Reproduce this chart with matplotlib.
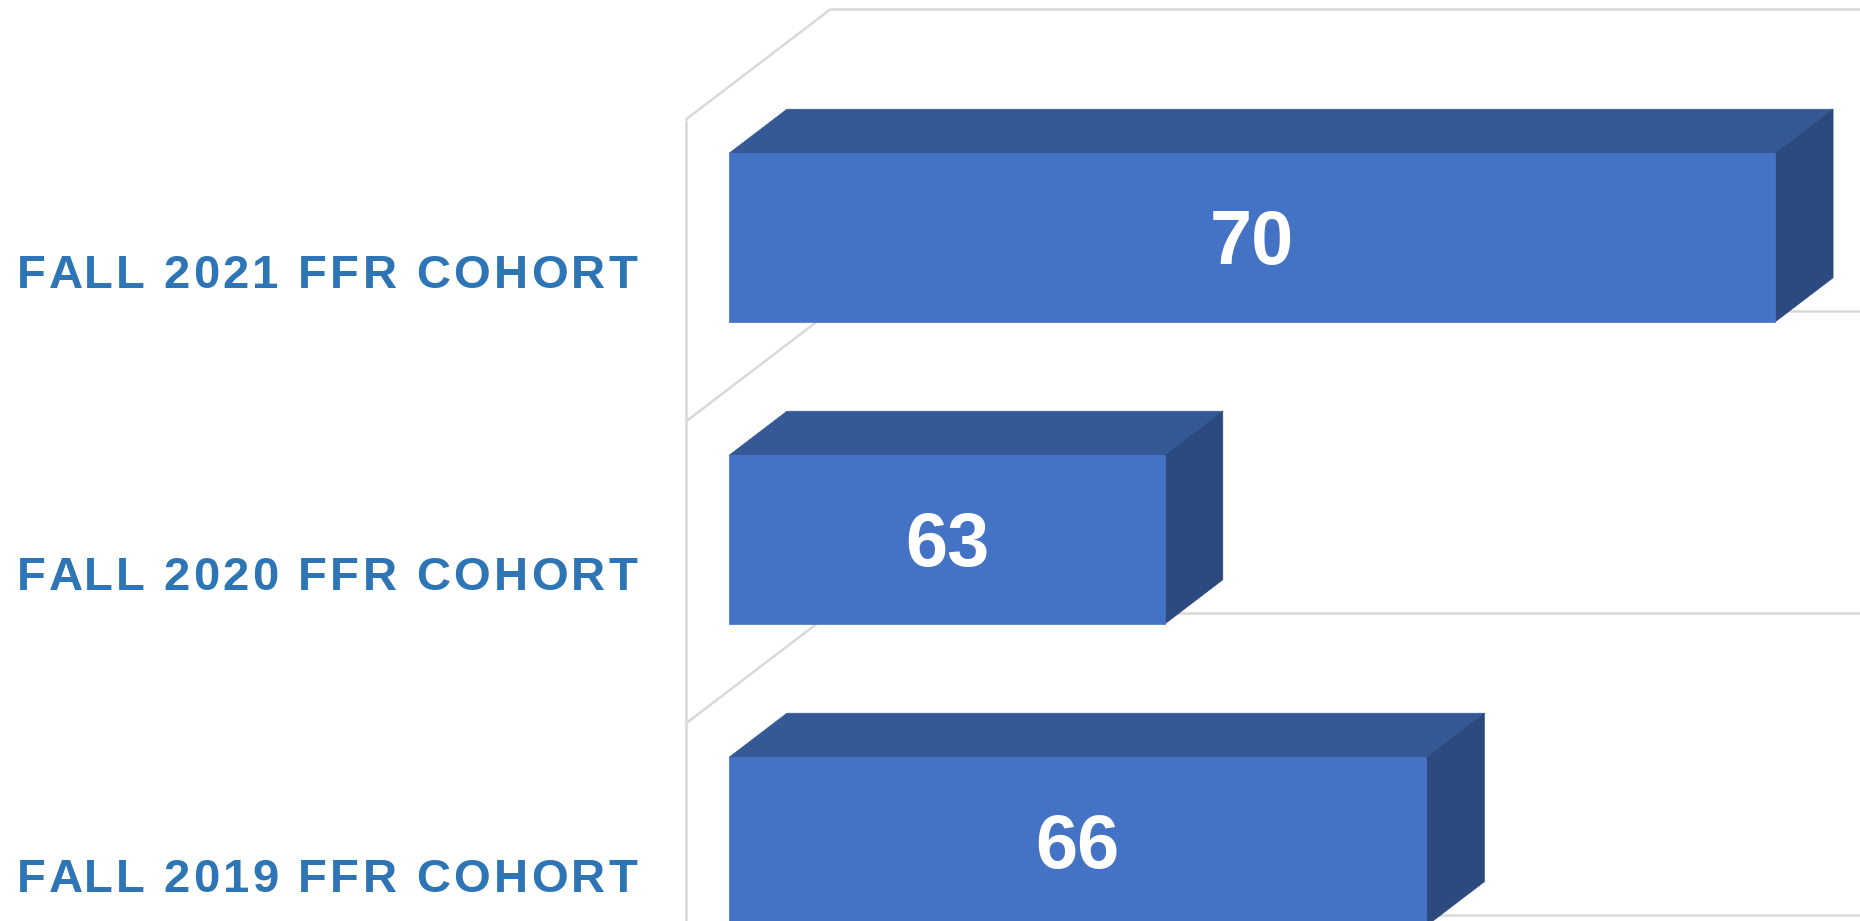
import matplotlib
matplotlib.use("Agg")
import matplotlib.pyplot as plt
from matplotlib.patches import Polygon
from matplotlib.font_manager import FontProperties
import matplotlib.transforms as mtransforms

# ---- data ----
categories = ["FALL 2019 FFR COHORT", "FALL 2020 FFR COHORT", "FALL 2021 FFR COHORT"]
values = [66, 63, 70]
axis_min = 58

# ---- figure / layout ----
W, H, DPI = 1860, 921, 100
fig = plt.figure(figsize=(W / DPI, H / DPI), dpi=DPI)
ax = fig.add_axes([0, 0, 1, 1])
ax.set_axis_off()

px_per_val = 87.18
px_per_cat = 302.0
wall_x_px = 685.6
cat0_px = 46.3
ax.set_xlim(axis_min - wall_x_px / px_per_val, axis_min + (W - wall_x_px) / px_per_val)
ax.set_ylim(-cat0_px / px_per_cat, (H - cat0_px) / px_per_cat)

DX = 144.7 / px_per_val      # depth vector in data units
DY = 110.3 / px_per_cat
d0, d1 = 0.30, 0.70          # bar depth range
half = 0.279                 # half bar height (category units)

grid_c = "#D9D9D9"
lw = 1.8
n = len(categories)
xmax = ax.get_xlim()[1]
ymin = ax.get_ylim()[0]
bounds = [i - 0.5 for i in range(n + 1)]

ax.plot([axis_min, axis_min], [ymin, bounds[-1]], color=grid_c, lw=lw,
        zorder=1, solid_capstyle="butt")
for b in bounds:
    ax.plot([axis_min, axis_min + DX], [b, b + DY], color=grid_c, lw=lw,
            zorder=1, solid_capstyle="butt")
    ax.plot([axis_min + DX, xmax], [b + DY, b + DY], color=grid_c, lw=lw,
            zorder=1, solid_capstyle="butt")

front_c = "#4472C4"
top_c = "#355995"
side_c = "#2C4A7F"
dd = d1 - d0

val_prop = FontProperties(family=["Liberation Sans", "DejaVu Sans"], weight="bold", size=54.5)
digit_half = 27.0

for i, v in enumerate(values):
    c = i
    x0 = axis_min + d0 * DX
    x1 = v + d0 * DX
    y0 = c - half + d0 * DY
    y1 = c + half + d0 * DY
    front = Polygon([(x0, y0), (x1, y0), (x1, y1), (x0, y1)], closed=True,
                    facecolor=front_c, edgecolor=front_c, lw=0.5, zorder=3)
    top = Polygon([(x0, y1), (x1, y1), (x1 + dd * DX, y1 + dd * DY),
                   (x0 + dd * DX, y1 + dd * DY)], closed=True,
                  facecolor=top_c, edgecolor=top_c, lw=0.5, zorder=2)
    side = Polygon([(x1, y0), (x1 + dd * DX, y0 + dd * DY),
                    (x1 + dd * DX, y1 + dd * DY), (x1, y1)], closed=True,
                   facecolor=side_c, edgecolor=side_c, lw=0.5, zorder=2)
    for p in (top, side, front):
        ax.add_patch(p)
    tr = mtransforms.offset_copy(ax.transData, fig=fig, x=0, y=-digit_half + 1,
                                 units="dots")
    ax.text((x0 + x1) / 2, (y0 + y1) / 2, f"{v}", ha="center", va="baseline",
            color="white", fontproperties=val_prop, transform=tr, zorder=5)

# ---- category labels with letter spacing ----
fig.canvas.draw()
renderer = fig.canvas.get_renderer()
prop = FontProperties(family=["Liberation Sans", "DejaVu Sans"], weight="bold", size=34)


def tw(s):
    return renderer.get_text_width_height_descent(s, prop, ismath=False)[0]


def adv(s):
    return tw("X" + s + "X") - tw("XX")


label_c = "#2E75B6"
left_px = 17.0
right_px = 637.0
cap_half = 17.0
for i, lab in enumerate(categories):
    sp = (right_px - left_px - adv(lab[:-1]) - tw(lab[-1])) / (len(lab) - 1)
    for k, ch in enumerate(lab):
        if ch == " ":
            continue
        xoff = left_px - wall_x_px + adv(lab[:k]) + k * sp
        tr = mtransforms.offset_copy(ax.transData, fig=fig, x=xoff, y=-cap_half,
                                     units="dots")
        ax.text(axis_min, i, ch, transform=tr, ha="left", va="baseline",
                fontproperties=prop, color=label_c, zorder=5)

fig.savefig("out.png", dpi=DPI, facecolor="white")
